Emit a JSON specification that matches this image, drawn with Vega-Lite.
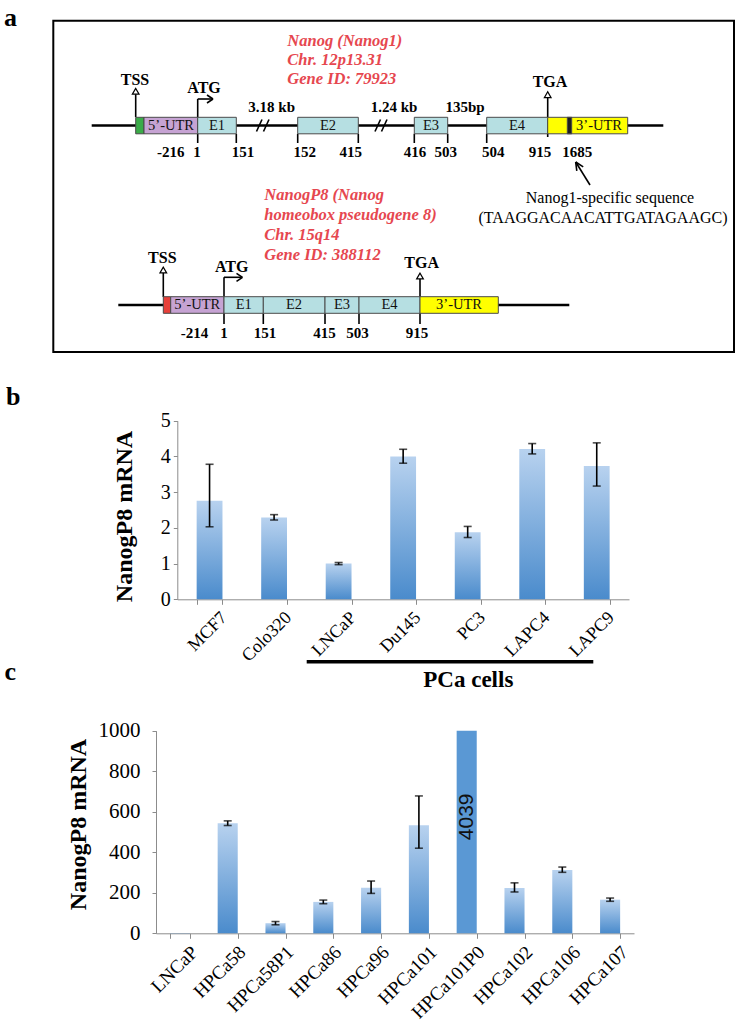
{
  "$schema": "https://vega.github.io/schema/vega-lite/v6.json",
  "padding": 0,
  "spacing": 0,
  "bounds": "flush",
  "background": "white",
  "config": {"view": {"stroke": null}, "axis": {"grid": false}},
  "datasets": {
    "frame": [{"x": 53.3, "x2": 734, "y": 20.7, "y2": 352}],
    "lines": [
      {"kind": "backbone", "x": 91.7, "y": 125.5, "x2": 663.3, "y2": 125.5},
      {"kind": "backbone", "x": 118.3, "y": 305, "x2": 569.3, "y2": 305},
      {"kind": "mark", "x": 256.5, "y": 131.5, "x2": 262, "y2": 119.5},
      {"kind": "mark", "x": 263.5, "y": 131.5, "x2": 269, "y2": 119.5},
      {"kind": "mark", "x": 375, "y": 131.5, "x2": 380.5, "y2": 119.5},
      {"kind": "mark", "x": 381.5, "y": 131.5, "x2": 387, "y2": 119.5},
      {"kind": "mark", "x": 135.7, "y": 117, "x2": 135.7, "y2": 94},
      {"kind": "mark", "x": 197.7, "y": 143, "x2": 197.7, "y2": 99},
      {"kind": "mark", "x": 197.7, "y": 99, "x2": 212.5, "y2": 99},
      {"kind": "mark", "x": 207, "y": 95, "x2": 213, "y2": 99},
      {"kind": "mark", "x": 207, "y": 103, "x2": 213, "y2": 99},
      {"kind": "mark", "x": 236.3, "y": 133.8, "x2": 236.3, "y2": 143},
      {"kind": "mark", "x": 297.7, "y": 133.8, "x2": 297.7, "y2": 143},
      {"kind": "mark", "x": 358.3, "y": 133.8, "x2": 358.3, "y2": 143},
      {"kind": "mark", "x": 414.3, "y": 133.8, "x2": 414.3, "y2": 143},
      {"kind": "mark", "x": 447.7, "y": 133.8, "x2": 447.7, "y2": 143},
      {"kind": "mark", "x": 486.7, "y": 133.8, "x2": 486.7, "y2": 143},
      {"kind": "mark", "x": 547.7, "y": 137, "x2": 547.7, "y2": 97},
      {"kind": "mark", "x": 163.3, "y": 297, "x2": 163.3, "y2": 273},
      {"kind": "mark", "x": 224, "y": 324, "x2": 224, "y2": 277.3},
      {"kind": "mark", "x": 224, "y": 277.3, "x2": 241.5, "y2": 277.3},
      {"kind": "mark", "x": 236.5, "y": 273.3, "x2": 242.5, "y2": 277.3},
      {"kind": "mark", "x": 236.5, "y": 281.3, "x2": 242.5, "y2": 277.3},
      {"kind": "mark", "x": 263.3, "y": 313.3, "x2": 263.3, "y2": 324},
      {"kind": "mark", "x": 325, "y": 313.3, "x2": 325, "y2": 324},
      {"kind": "mark", "x": 359, "y": 313.3, "x2": 359, "y2": 324},
      {"kind": "mark", "x": 420, "y": 324, "x2": 420, "y2": 279},
      {"kind": "mark", "x": 590, "y": 185, "x2": 575.7, "y2": 162},
      {"kind": "mark", "x": 576.8, "y": 170.9, "x2": 575.7, "y2": 162},
      {"kind": "mark", "x": 583.2, "y": 166.9, "x2": 575.7, "y2": 162},
      {"kind": "group", "x": 306.7, "y": 661.7, "x2": 593.3, "y2": 661.7}
    ],
    "heads": [
      {"x": 135.7, "y": 91.3},
      {"x": 547.7, "y": 94.7},
      {"x": 163.3, "y": 270},
      {"x": 420, "y": 276}
    ],
    "boxes": [
      {"part": "Nanog TSS", "x": 135.7, "x2": 144, "y": 117.3, "y2": 133.8},
      {"part": "5'-UTR", "x": 144, "x2": 197.7, "y": 117.3, "y2": 133.8},
      {"part": "exon", "x": 197.7, "x2": 236.3, "y": 117.3, "y2": 133.8},
      {"part": "exon", "x": 297.7, "x2": 358.3, "y": 117.3, "y2": 133.8},
      {"part": "exon", "x": 414.3, "x2": 447.7, "y": 117.3, "y2": 133.8},
      {"part": "exon", "x": 486.7, "x2": 547.7, "y": 117.3, "y2": 133.8},
      {"part": "3'-UTR", "x": 547.7, "x2": 627.7, "y": 117.3, "y2": 133.8},
      {"part": "Nanog1-specific", "x": 567.3, "x2": 571.7, "y": 117.3, "y2": 133.8},
      {"part": "NanogP8 TSS", "x": 163.3, "x2": 170.7, "y": 296.7, "y2": 313.3},
      {"part": "5'-UTR", "x": 170.7, "x2": 224, "y": 296.7, "y2": 313.3},
      {"part": "exon", "x": 224, "x2": 263.3, "y": 296.7, "y2": 313.3},
      {"part": "exon", "x": 263.3, "x2": 325, "y": 296.7, "y2": 313.3},
      {"part": "exon", "x": 325, "x2": 359, "y": 296.7, "y2": 313.3},
      {"part": "exon", "x": 359, "x2": 420, "y": 296.7, "y2": 313.3},
      {"part": "3'-UTR", "x": 420, "x2": 498.3, "y": 296.7, "y2": 313.3}
    ],
    "texts": [
      {"kind": "letter", "text": "a", "x": 4, "y": 18},
      {"kind": "letter", "text": "b", "x": 6, "y": 397},
      {"kind": "letter", "text": "c", "x": 4.5, "y": 672},
      {"kind": "site", "text": "TSS", "x": 135, "y": 80},
      {"kind": "site", "text": "ATG", "x": 204, "y": 88},
      {"kind": "site", "text": "TGA", "x": 550, "y": 81.7},
      {"kind": "site", "text": "TSS", "x": 162.3, "y": 258.3},
      {"kind": "site", "text": "ATG", "x": 231.7, "y": 266.7},
      {"kind": "site", "text": "TGA", "x": 421.7, "y": 263.3},
      {"kind": "coord", "text": "3.18 kb", "x": 271.7, "y": 107},
      {"kind": "coord", "text": "1.24 kb", "x": 394, "y": 107},
      {"kind": "coord", "text": "135bp", "x": 465, "y": 107},
      {"kind": "coord", "text": "-216", "x": 170.7, "y": 151.7},
      {"kind": "coord", "text": "1", "x": 197, "y": 151.7},
      {"kind": "coord", "text": "151", "x": 243, "y": 151.7},
      {"kind": "coord", "text": "152", "x": 304.7, "y": 151.7},
      {"kind": "coord", "text": "415", "x": 350.7, "y": 151.7},
      {"kind": "coord", "text": "416", "x": 415, "y": 151.7},
      {"kind": "coord", "text": "503", "x": 445.7, "y": 151.7},
      {"kind": "coord", "text": "504", "x": 493.3, "y": 151.7},
      {"kind": "coord", "text": "915", "x": 540, "y": 151.7},
      {"kind": "coord", "text": "1685", "x": 577.3, "y": 151.7},
      {"kind": "coord", "text": "-214", "x": 194.6, "y": 333},
      {"kind": "coord", "text": "1", "x": 224, "y": 333},
      {"kind": "coord", "text": "151", "x": 265, "y": 333},
      {"kind": "coord", "text": "415", "x": 324.6, "y": 333},
      {"kind": "coord", "text": "503", "x": 357.6, "y": 333},
      {"kind": "coord", "text": "915", "x": 417, "y": 333},
      {"kind": "box", "text": "5’-UTR", "x": 171, "y": 125.5},
      {"kind": "box", "text": "E1", "x": 217, "y": 125.5},
      {"kind": "box", "text": "E2", "x": 328, "y": 125.5},
      {"kind": "box", "text": "E3", "x": 431, "y": 125.5},
      {"kind": "box", "text": "E4", "x": 517, "y": 125.5},
      {"kind": "box", "text": "3’-UTR", "x": 599, "y": 125.5},
      {"kind": "box", "text": "5’-UTR", "x": 197.3, "y": 305},
      {"kind": "box", "text": "E1", "x": 243.7, "y": 305},
      {"kind": "box", "text": "E2", "x": 294, "y": 305},
      {"kind": "box", "text": "E3", "x": 342, "y": 305},
      {"kind": "box", "text": "E4", "x": 389.5, "y": 305},
      {"kind": "box", "text": "3’-UTR", "x": 459, "y": 305},
      {"kind": "gene", "text": "Nanog (Nanog1)", "x": 287.3, "y": 40.7},
      {"kind": "gene", "text": "Chr. 12p13.31", "x": 287.3, "y": 60},
      {"kind": "gene", "text": "Gene ID: 79923", "x": 287.3, "y": 79.3},
      {"kind": "gene", "text": "NanogP8 (Nanog", "x": 264.3, "y": 195},
      {"kind": "gene", "text": "homeobox pseudogene 8)", "x": 264.3, "y": 215},
      {"kind": "gene", "text": "Chr. 15q14", "x": 264.3, "y": 235},
      {"kind": "gene", "text": "Gene ID: 388112", "x": 264.3, "y": 255},
      {"kind": "note", "text": "Nanog1-specific sequence", "x": 610, "y": 198.3},
      {"kind": "note", "text": "(TAAGGACAACATTGATAGAAGC)", "x": 603, "y": 218.3},
      {"kind": "group", "text": "PCa cells", "x": 468.3, "y": 680}
    ],
    "lines_b": [
      {"cell": "MCF7", "value": 2.76, "lo": 2.03, "hi": 3.78},
      {"cell": "Colo320", "value": 2.29, "lo": 2.22, "hi": 2.37},
      {"cell": "LNCaP", "value": 1.0, "lo": 0.97, "hi": 1.03},
      {"cell": "Du145", "value": 4.0, "lo": 3.81, "hi": 4.2},
      {"cell": "PC3", "value": 1.88, "lo": 1.73, "hi": 2.04},
      {"cell": "LAPC4", "value": 4.21, "lo": 4.07, "hi": 4.36},
      {"cell": "LAPC9", "value": 3.73, "lo": 3.17, "hi": 4.38}
    ],
    "xenografts": [
      {"cell": "LNCaP", "value": 1, "lo": null, "hi": null},
      {"cell": "HPCa58", "value": 543, "lo": 532, "hi": 555},
      {"cell": "HPCa58P1", "value": 50, "lo": 42, "hi": 58},
      {"cell": "HPCa86", "value": 155, "lo": 146, "hi": 164},
      {"cell": "HPCa96", "value": 225, "lo": 197, "hi": 258},
      {"cell": "HPCa101", "value": 533, "lo": 420, "hi": 678},
      {"cell": "HPCa101P0", "value": 4039, "lo": null, "hi": null},
      {"cell": "HPCa102", "value": 224, "lo": 204, "hi": 249},
      {"cell": "HPCa106", "value": 313, "lo": 301, "hi": 327},
      {"cell": "HPCa107", "value": 166, "lo": 158, "hi": 174}
    ]
  },
  "vconcat": [
    {
      "width": 750,
      "height": 365,
      "encoding": {
        "x": {"field": "x", "type": "quantitative", "scale": {"domain": [0, 750], "range": [0, 750], "nice": false, "zero": false}, "axis": null},
        "y": {"field": "y", "type": "quantitative", "scale": {"domain": [0, 365], "range": [0, 365], "nice": false, "zero": false}, "axis": null}
      },
      "layer": [
        {
          "data": {"name": "frame"},
          "mark": {"type": "rect", "fillOpacity": 0, "stroke": "#000", "strokeWidth": 2},
          "encoding": {"x2": {"field": "x2"}, "y2": {"field": "y2"}}
        },
        {
          "data": {"name": "lines"},
          "transform": [{"filter": "datum.kind === 'backbone'"}],
          "mark": {"type": "rule", "color": "#000", "strokeWidth": 2.5},
          "encoding": {"x2": {"field": "x2"}, "y2": {"field": "y2"}}
        },
        {
          "data": {"name": "lines"},
          "transform": [{"filter": "datum.kind === 'mark'"}],
          "mark": {"type": "rule", "color": "#000", "strokeWidth": 1.6},
          "encoding": {"x2": {"field": "x2"}, "y2": {"field": "y2"}}
        },
        {
          "data": {"name": "lines"},
          "transform": [{"filter": "datum.kind === 'group'"}],
          "mark": {"type": "rule", "color": "#000", "strokeWidth": 3.5},
          "encoding": {"x2": {"field": "x2"}, "y2": {"field": "y2"}}
        },
        {
          "data": {"name": "boxes"},
          "mark": {"type": "rect", "stroke": "#4a4a4a", "strokeWidth": 1},
          "encoding": {
            "x2": {"field": "x2"},
            "y2": {"field": "y2"},
            "color": {"field": "part", "type": "nominal", "legend": null,
              "scale": {"domain": ["Nanog TSS", "NanogP8 TSS", "5'-UTR", "exon", "3'-UTR", "Nanog1-specific"],
                        "range": ["#3aab48", "#e8403a", "#c6a3d3", "#b6dfe2", "#ffff00", "#1e1e1e"]}}
          }
        },
        {
          "data": {"name": "heads"},
          "mark": {"type": "point", "shape": "triangle-up", "size": 45, "filled": true, "fill": "white", "stroke": "#000", "strokeWidth": 1.2, "opacity": 1}
        },
        {
          "data": {"name": "texts"},
          "transform": [{"filter": "datum.kind === 'letter'"}],
          "mark": {"type": "text", "font": "Liberation Serif", "fontWeight": "bold", "fontSize": 26, "align": "left", "baseline": "middle", "color": "#000"},
          "encoding": {"text": {"field": "text"}}
        },
        {
          "data": {"name": "texts"},
          "transform": [{"filter": "datum.kind === 'site'"}],
          "mark": {"type": "text", "font": "Liberation Serif", "fontWeight": "bold", "fontSize": 16, "align": "center", "baseline": "middle", "color": "#000"},
          "encoding": {"text": {"field": "text"}}
        },
        {
          "data": {"name": "texts"},
          "transform": [{"filter": "datum.kind === 'coord'"}],
          "mark": {"type": "text", "font": "Liberation Serif", "fontWeight": "bold", "fontSize": 15, "align": "center", "baseline": "middle", "color": "#000"},
          "encoding": {"text": {"field": "text"}}
        },
        {
          "data": {"name": "texts"},
          "transform": [{"filter": "datum.kind === 'box'"}],
          "mark": {"type": "text", "font": "Liberation Serif", "fontSize": 14.5, "align": "center", "baseline": "middle", "color": "#111"},
          "encoding": {"text": {"field": "text"}}
        },
        {
          "data": {"name": "texts"},
          "transform": [{"filter": "datum.kind === 'gene'"}],
          "mark": {"type": "text", "font": "Liberation Serif", "fontWeight": "bold", "fontStyle": "italic", "fontSize": 16.5, "align": "left", "baseline": "middle", "color": "#e6474f"},
          "encoding": {"text": {"field": "text"}}
        },
        {
          "data": {"name": "texts"},
          "transform": [{"filter": "datum.kind === 'note'"}],
          "mark": {"type": "text", "font": "Liberation Serif", "fontSize": 16, "align": "center", "baseline": "middle", "color": "#000"},
          "encoding": {"text": {"field": "text"}}
        },
        {
          "data": {"name": "texts"},
          "transform": [{"filter": "datum.kind === 'group'"}],
          "mark": {"type": "text", "font": "Liberation Serif", "fontWeight": "bold", "fontSize": 23, "align": "center", "baseline": "middle", "color": "#000"},
          "encoding": {"text": {"field": "text"}}
        }
      ]
    },
    {
      "width": 750,
      "height": 325,
      "data": {"name": "lines_b"},
      "layer": [
        {
          "mark": {"type": "bar", "fill": {"gradient": "linear", "x1": 0, "y1": 0, "x2": 0, "y2": 1, "stops": [{"offset": 0, "color": "#b8d2ef"}, {"offset": 1, "color": "#4a8bcc"}]}},
          "encoding": {
            "x": {"field": "cell", "type": "nominal", "sort": null,
              "scale": {"range": [177.3, 629], "paddingInner": 0.6, "paddingOuter": 0.3},
              "axis": {"title": null, "offset": -90.7, "labelAngle": -45, "labelAlign": "right", "labelBaseline": "top", "labelFont": "Liberation Serif", "labelFontSize": 18, "labelColor": "#000", "labelPadding": 4, "labelOffset": 8, "tickBand": "extent", "tickSize": 5, "tickColor": "#8c8c8c", "domainColor": "#8c8c8c"}},
            "y": {"field": "value", "type": "quantitative",
              "scale": {"domain": [0, 5], "range": [234.3, 55.7], "nice": false, "zero": true},
              "axis": {"title": "NanogP8 mRNA", "titleFont": "Liberation Serif", "titleFontSize": 24, "titleFontWeight": "bold", "titleColor": "#000", "titleAngle": -90, "titleAlign": "center", "titleBaseline": "alphabetic", "titleX": -46, "titleY": 151, "offset": -177.3, "values": [0, 1, 2, 3, 4, 5], "format": "d", "labelFont": "Liberation Serif", "labelFontSize": 20, "labelColor": "#000", "labelPadding": 3, "tickSize": 4, "tickColor": "#8c8c8c", "domainColor": "#8c8c8c"}}
          }
        },
        {
          "mark": {"type": "errorbar", "color": "#000", "ticks": {"size": 8, "thickness": 1.6, "color": "#000"}, "rule": {"strokeWidth": 1.6, "color": "#000"}},
          "encoding": {
            "x": {"field": "cell", "type": "nominal", "sort": null},
            "y": {"field": "lo", "type": "quantitative", "title": "NanogP8 mRNA"},
            "y2": {"field": "hi"}
          }
        }
      ]
    },
    {
      "width": 750,
      "height": 335,
      "data": {"name": "xenografts"},
      "layer": [
        {
          "transform": [{"filter": "datum.cell !== 'HPCa101P0'"}],
          "mark": {"type": "bar", "fill": {"gradient": "linear", "x1": 0, "y1": 0, "x2": 0, "y2": 1, "stops": [{"offset": 0, "color": "#b8d2ef"}, {"offset": 1, "color": "#4a8bcc"}]}},
          "encoding": {
            "x": {"field": "cell", "type": "nominal", "sort": ["LNCaP", "HPCa58", "HPCa58P1", "HPCa86", "HPCa96", "HPCa101", "HPCa101P0", "HPCa102", "HPCa106", "HPCa107"],
              "scale": {"domain": ["LNCaP", "HPCa58", "HPCa58P1", "HPCa86", "HPCa96", "HPCa101", "HPCa101P0", "HPCa102", "HPCa106", "HPCa107"], "range": [156, 634], "paddingInner": 0.58, "paddingOuter": 0.29},
              "axis": {"title": null, "offset": -91.7, "labelAngle": -45, "labelAlign": "right", "labelBaseline": "top", "labelFont": "Liberation Serif", "labelFontSize": 19, "labelColor": "#000", "labelPadding": 4, "labelOffset": 8, "tickBand": "extent", "tickSize": 5, "tickColor": "#8c8c8c", "domainColor": "#8c8c8c"}},
            "y": {"field": "value", "type": "quantitative",
              "scale": {"domain": [0, 1000], "range": [243.3, 40.7], "nice": false, "zero": true, "clamp": true},
              "axis": {"title": "NanogP8 mRNA", "titleFont": "Liberation Serif", "titleFontSize": 24, "titleFontWeight": "bold", "titleColor": "#000", "titleAngle": -90, "titleAlign": "center", "titleBaseline": "alphabetic", "titleX": -71, "titleY": 134, "offset": -156, "values": [0, 100, 200, 300, 400, 500, 600, 700, 800, 900, 1000], "format": "d", "labelExpr": "datum.value % 200 === 0 ? datum.label : ''", "labelFont": "Liberation Serif", "labelFontSize": 21, "labelColor": "#000", "labelPadding": 12, "tickSize": 4, "tickColor": "#8c8c8c", "domainColor": "#8c8c8c"}}
          }
        },
        {
          "transform": [{"filter": "datum.cell === 'HPCa101P0'"}],
          "mark": {"type": "bar", "fill": "#5a98d4"},
          "encoding": {
            "x": {"field": "cell", "type": "nominal"},
            "y": {"field": "value", "type": "quantitative"}
          }
        },
        {
          "transform": [{"filter": "datum.cell === 'HPCa101P0'"}],
          "mark": {"type": "text", "angle": 270, "font": "Liberation Sans", "fontSize": 21, "align": "center", "baseline": "middle", "color": "#111"},
          "encoding": {
            "x": {"field": "cell", "type": "nominal"},
            "y": {"datum": 575, "type": "quantitative"},
            "text": {"field": "value", "type": "quantitative", "format": "d"}
          }
        },
        {
          "transform": [{"filter": "isValid(datum.lo)"}],
          "mark": {"type": "errorbar", "color": "#000", "ticks": {"size": 8, "thickness": 1.6, "color": "#000"}, "rule": {"strokeWidth": 1.6, "color": "#000"}},
          "encoding": {
            "x": {"field": "cell", "type": "nominal"},
            "y": {"field": "lo", "type": "quantitative", "title": "NanogP8 mRNA"},
            "y2": {"field": "hi"}
          }
        }
      ]
    }
  ]
}
